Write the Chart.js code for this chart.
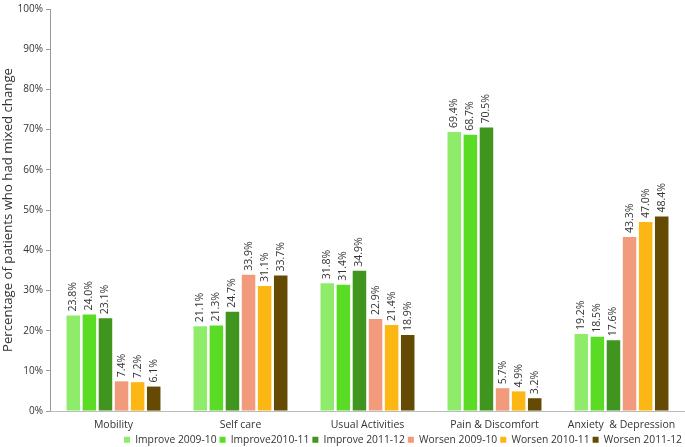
<!DOCTYPE html>
<html>
<head>
<meta charset="utf-8">
<script src="https://cdn.jsdelivr.net/npm/chart.js@4.4.0/dist/chart.umd.min.js"></script>
<style>
  html, body { margin: 0; padding: 0; background: #fff; }
  #wrap { width: 685px; height: 447px; }
</style>
</head>
<body>
<div id="wrap"><canvas id="chart"></canvas></div>
<script>
// EQ-5D dimensions, share of patients with mixed change
const categories = ['Mobility', 'Self care', 'Usual Activities', 'Pain & Discomfort', 'Anxiety  & Depression'];
const seriesNames = ['Improve 2009-10', 'Improve2010-11', 'Improve 2011-12', 'Worsen 2009-10', 'Worsen 2010-11', 'Worsen 2011-12'];
const improve0910 = [23.8, 21.1, 31.8, 69.4, 19.2];
const improve1011 = [24.0, 21.3, 31.4, 68.7, 18.5];
const improve1112 = [23.1, 24.7, 34.9, 70.5, 17.6];
const worsen0910 = [7.4, 33.9, 22.9, 5.7, 43.3];
const worsen1011 = [7.2, 31.1, 21.4, 4.9, 47.0];
const worsen1112 = [6.1, 33.7, 18.9, 3.2, 48.4];
const colors = ['#8fec6b', '#5bdc24', '#3f951d', '#f19b7c', '#fcb714', '#644a02'];
const yTicks = [0, 10, 20, 30, 40, 50, 60, 70, 80, 90, 100];

const FONT = '"Open Sans", sans-serif';

// labels above each bar, rotated
const barLabels = {
    id: 'barLabels',
    afterDatasetsDraw(chart) {
        const ctx = chart.ctx;
        ctx.save();
        ctx.font = '10.5px ' + FONT;
        ctx.fillStyle = '#333';
        ctx.textAlign = 'left';
        ctx.textBaseline = 'middle';
        chart.data.datasets.forEach((ds, i) => {
            chart.getDatasetMeta(i).data.forEach((bar, j) => {
                ctx.save();
                ctx.translate(bar.x, bar.y - 4);
                ctx.rotate(-Math.PI / 2);
                ctx.fillText(ds.data[j].toFixed(1) + '%', 0, 0);
                ctx.restore();
            });
        });
        ctx.restore();
    }
};

const allSeries = [improve0910, improve1011, improve1112, worsen0910, worsen1011, worsen1112];

new Chart(document.getElementById('chart'), {
    type: 'bar',
    data: {
        labels: categories,
        datasets: allSeries.map((d, i) => ({
            label: seriesNames[i],
            data: d,
            backgroundColor: colors[i],
            borderWidth: 0,
            barPercentage: 0.84,
            categoryPercentage: 0.76
        }))
    },
    options: {
        responsive: true,
        maintainAspectRatio: false,
        animation: false,
        layout: { padding: { left: 0, right: 0, top: 4, bottom: -8 } },
        plugins: {
            legend: {
                position: 'bottom',
                align: 'end',
                labels: {
                    boxWidth: 6,
                    boxHeight: 6,
                    padding: 3,
                    color: '#333',
                    font: { family: FONT, size: 10.3 }
                }
            },
            tooltip: { enabled: false }
        },
        scales: {
            y: {
                min: 0,
                max: 100,
                afterBuildTicks: axis => { axis.ticks = yTicks.map(v => ({ value: v })); },
                afterFit: axis => { axis.width = 50; },
                ticks: {
                    callback: v => v + '%',
                    color: '#333',
                    padding: 3,
                    font: { family: FONT, size: 10 }
                },
                grid: { drawOnChartArea: false, drawTicks: true, tickLength: 4, color: '#999' },
                border: { color: '#999' },
                title: {
                    display: true,
                    text: 'Percentage of patients who had mixed change',
                    color: '#333',
                    font: { family: FONT, size: 13.2 },
                    padding: { top: 0, bottom: 2 }
                }
            },
            x: {
                ticks: {
                    color: '#333',
                    padding: 0,
                    font: { family: FONT, size: 10.5 }
                },
                grid: { display: false },
                border: { color: '#bbb' }
            }
        }
    },
    plugins: [barLabels]
});
</script>
</body>
</html>
